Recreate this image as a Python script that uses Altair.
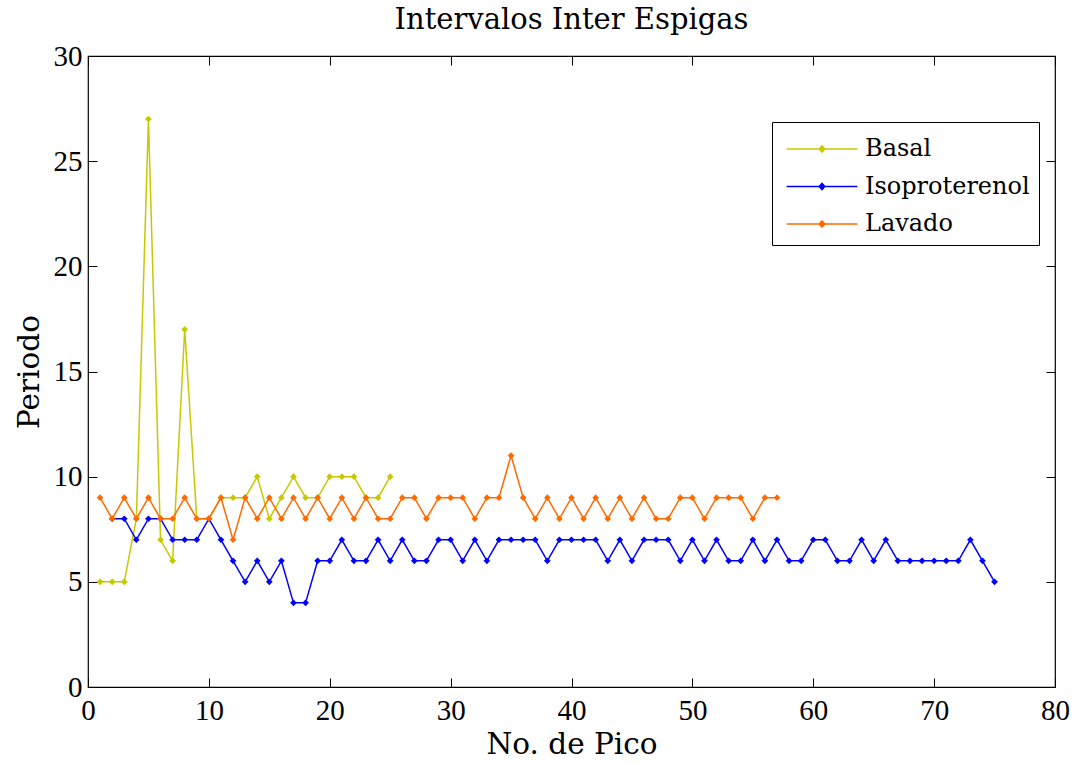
import altair as alt
import pandas as pd

# Inter-spike intervals per peak number for each condition
basal = [5, 5, 5, 8, 27, 7, 6, 17, 8, 8, 9, 9, 9, 10, 8, 9, 10, 9, 9, 10,
         10, 10, 9, 9, 10]
isoproterenol = [8, 8, 7, 8, 8, 7, 7, 7, 8, 7, 6, 5, 6, 5, 6, 4, 4, 6, 6, 7,
                 6, 6, 7, 6, 7, 6, 6, 7, 7, 6, 7, 6, 7, 7, 7, 7, 6, 7, 7, 7,
                 7, 6, 7, 6, 7, 7, 7, 6, 7, 6, 7, 6, 6, 7, 6, 7, 6, 6, 7, 7,
                 6, 6, 7, 6, 7, 6, 6, 6, 6, 6, 6, 7, 6, 5]
lavado = [9, 8, 9, 8, 9, 8, 8, 9, 8, 8, 9, 7, 9, 8, 9, 8, 9, 8, 9, 8,
          9, 8, 9, 8, 8, 9, 9, 8, 9, 9, 9, 8, 9, 9, 11, 9, 8, 9, 8, 9,
          8, 9, 8, 9, 8, 9, 8, 8, 9, 9, 8, 9, 9, 9, 8, 9, 9]

series_names = ["Basal", "Isoproterenol", "Lavado"]
series_colors = ["#c8c800", "#0000ff", "#ff6a00"]
series_values = [basal, isoproterenol, lavado]
series_start = [1, 2, 1]

x_ticks = [0, 10, 20, 30, 40, 50, 60, 70, 80]
y_ticks = [0, 5, 10, 15, 20, 25, 30]

rows = []
for name, vals, start in zip(series_names, series_values, series_start):
    for i, v in enumerate(vals):
        rows.append({"pico": start + i, "periodo": v, "serie": name})
df = pd.DataFrame(rows)

TEXT_FONT = "DejaVu Serif"
NUM_FONT = "Liberation Serif"
W, H = 967, 631
TICK = 9

xs = alt.Scale(domain=[0, 80], nice=False, zero=False)
ys = alt.Scale(domain=[0, 30], nice=False, zero=False)
cs = alt.Scale(domain=series_names, range=series_colors)

legend = alt.Legend(
    title=" ", titleFontSize=2, titlePadding=4,
    orient="none", legendX=684, legendY=66,
    strokeColor="black", fillColor="white", padding=9,
    labelFont=TEXT_FONT, labelFontSize=24, labelColor="black", labelLimit=400,
    symbolType="M-5,0H5M-0.4,0L0,-0.45L0.4,0L0,0.45Z",
    symbolSize=200, symbolStrokeWidth=1.5, symbolOffset=29,
    labelOffset=31, rowPadding=13.5, cornerRadius=0,
)

base = alt.Chart(df)

layers = []
for i, name in enumerate(series_names):
    sub = base.transform_filter(alt.datum.serie == name)
    if i == 0:
        x_axis = alt.Axis(values=x_ticks, title="No. de Pico", grid=False,
                          domain=False, ticks=False, labelPadding=9,
                          labelFlush=False, labelOverlap=False,
                          labelFont=NUM_FONT, labelFontSize=29, labelColor="black",
                          titleFont=TEXT_FONT, titleFontSize=29.5,
                          titleFontWeight="normal", titleColor="black",
                          titlePadding=5, orient="bottom")
        y_axis = alt.Axis(values=y_ticks, title="Periodo", grid=False,
                          domain=False, ticks=False, labelPadding=6,
                          labelFlush=False, labelOverlap=False,
                          labelFont=NUM_FONT, labelFontSize=29, labelColor="black",
                          titleFont=TEXT_FONT, titleFontSize=29.5,
                          titleFontWeight="normal", titleColor="black",
                          titlePadding=9, orient="left")
    else:
        x_axis = None
        y_axis = None
    line = sub.mark_line(strokeWidth=1.5).encode(
        x=alt.X("pico:Q", scale=xs, axis=x_axis),
        y=alt.Y("periodo:Q", scale=ys, axis=y_axis),
        color=alt.Color("serie:N", scale=cs, legend=legend),
    )
    pts = sub.mark_point(shape="diamond", filled=True, size=45, opacity=1).encode(
        x=alt.X("pico:Q", scale=xs, axis=None),
        y=alt.Y("periodo:Q", scale=ys, axis=None),
        color=alt.Color("serie:N", scale=cs, legend=None),
    )
    layers += [line, pts]


def tick_axis(orient, vals):
    return alt.Axis(values=vals, orient=orient, offset=-TICK, tickSize=TICK,
                    tickColor="black", tickWidth=1, labels=False, domain=False,
                    grid=False, title=None)


ticks_bl = base.mark_point(opacity=0).encode(
    x=alt.X("pico:Q", scale=xs, axis=tick_axis("bottom", x_ticks)),
    y=alt.Y("periodo:Q", scale=ys, axis=tick_axis("left", y_ticks)),
)
ticks_tr = base.mark_point(opacity=0).encode(
    x=alt.X("pico:Q", scale=xs, axis=tick_axis("top", x_ticks)),
    y=alt.Y("periodo:Q", scale=ys, axis=tick_axis("right", y_ticks)),
)

chart = alt.layer(*layers, ticks_bl, ticks_tr).resolve_axis(
    x="independent", y="independent"
).properties(
    width=W, height=H,
    title=alt.TitleParams("Intervalos Inter Espigas", font=TEXT_FONT,
                          fontSize=29, fontWeight="normal", color="black",
                          frame="group", anchor="middle", offset=7),
    autosize=alt.AutoSizeParams(type="none"),
    padding={"left": 88, "top": 56, "right": 19, "bottom": 76},
    background="white",
).configure_view(stroke="black", strokeWidth=1.2)

chart.save("out.html", embed_options={"renderer": "svg", "actions": False})
